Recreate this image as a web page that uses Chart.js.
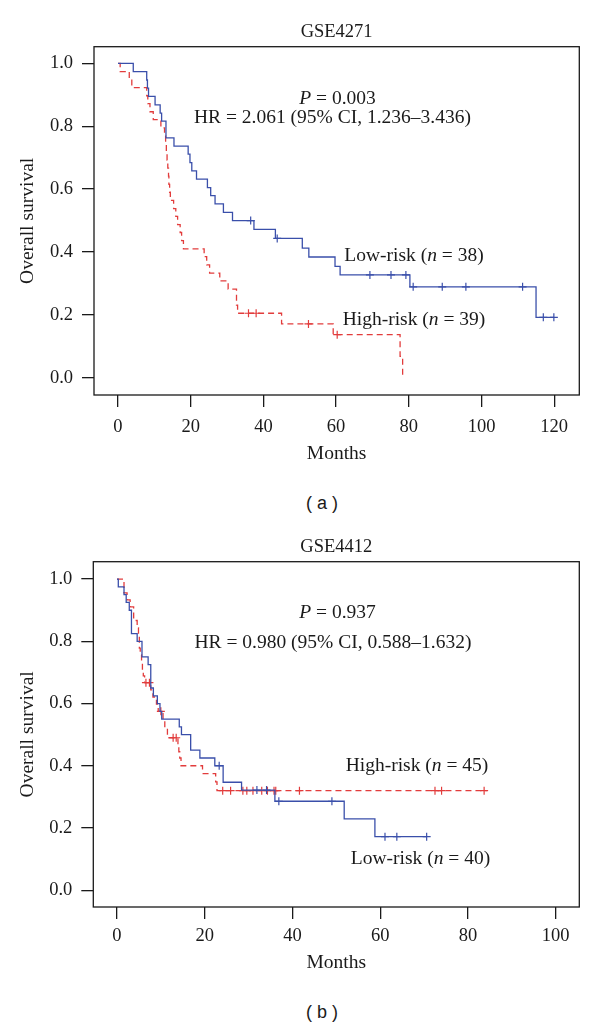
<!DOCTYPE html>
<html>
<head>
<meta charset="utf-8">
<script src="https://cdn.jsdelivr.net/npm/chart.js@4.4.1/dist/chart.umd.min.js"></script>
<style>
  body { margin: 0; background: #fff; }
  #page { position: relative; width: 600px; height: 1027px; overflow: hidden; background: #fff;
          font-family: 'Liberation Serif', 'Times New Roman', serif; color: #1a1a1a; }
  canvas { position: absolute; left: 0; }
  .note { position: absolute; transform: translate(-50%, -50%); white-space: nowrap; font-size: 19.5px; line-height: 1; }
  .cap { position: absolute; transform: translate(-50%, -50%); white-space: pre; line-height: 1;
         font-family: 'Liberation Sans', Arial, sans-serif; font-size: 18px; }
</style>
</head>
<body>
<div id="page">
  <canvas id="chartA" width="600" height="480" style="top:0px"></canvas>
  <canvas id="chartB" width="600" height="480" style="top:515px"></canvas>

  <div class="note" style="left:337.5px; top:98px"><i>P</i> = 0.003</div>
  <div class="note" style="left:332.5px; top:117px">HR = 2.061 (95% CI, 1.236–3.436)</div>
  <div class="note" style="left:414px; top:255px">Low-risk (<i>n</i> = 38)</div>
  <div class="note" style="left:414px; top:319px">High-risk (<i>n</i> = 39)</div>
  <div class="cap" style="left:322px; top:503px">( a )</div>

  <div class="note" style="left:337.5px; top:612px"><i>P</i> = 0.937</div>
  <div class="note" style="left:333px; top:642px">HR = 0.980 (95% CI, 0.588–1.632)</div>
  <div class="note" style="left:417px; top:765px">High-risk (<i>n</i> = 45)</div>
  <div class="note" style="left:420.5px; top:858px">Low-risk (<i>n</i> = 40)</div>
  <div class="cap" style="left:322px; top:1012px">( b )</div>
</div>

<script>
// (a) GSE4271 - step times (months) and survival after each step
const lowTimesA = [0, 4.2, 7.9, 8.1, 8.4, 10.2, 11.6, 12.0, 13.2, 15.4, 19.3, 19.8, 20.3, 21.6, 24.6, 25.5, 26.7, 29.0, 31.5, 37.4, 43.3, 50.7, 52.5, 59.7, 61.1, 80.3, 115.0, 119.9];
const lowSurvA  = [1, 0.974, 0.947, 0.921, 0.895, 0.868, 0.842, 0.816, 0.763, 0.737, 0.711, 0.684, 0.658, 0.632, 0.605, 0.579, 0.553, 0.526, 0.500, 0.472, 0.443, 0.412, 0.384, 0.354, 0.327, 0.289, 0.192, 0.192];
const lowCensorA = [36.5, 43.8, 69.3, 75.1, 79.2, 81.2, 89.2, 95.7, 111.3, 117.0, 119.9];

const highTimesA = [0, 0.6, 3.1, 3.8, 7.9, 8.2, 8.8, 9.7, 11.8, 12.8, 13.1, 13.3, 13.5, 13.7, 13.9, 14.0, 14.2, 14.4, 15.3, 15.9, 16.4, 17.1, 17.5, 18.0, 23.7, 24.4, 25.2, 28.0, 30.3, 32.6, 32.9, 45.0, 59.2, 77.6, 78.3];
const highSurvA  = [1, 0.974, 0.949, 0.923, 0.897, 0.872, 0.846, 0.821, 0.795, 0.769, 0.744, 0.718, 0.692, 0.667, 0.641, 0.615, 0.590, 0.564, 0.538, 0.513, 0.487, 0.462, 0.436, 0.410, 0.385, 0.359, 0.333, 0.308, 0.282, 0.231, 0.205, 0.171, 0.137, 0.068, 0];
const highCensorA = [35.9, 38.0, 52.4, 60.3];

const xTicksA = [0, 20, 40, 60, 80, 100, 120];

// (b) GSE4412
const lowTimesB = [0, 0.3, 1.6, 2.1, 2.8, 3.3, 4.6, 5.7, 7.1, 7.7, 8.3, 9.2, 9.8, 10.2, 14.2, 14.7, 16.8, 18.9, 22.3, 24.2, 28.4, 36.0, 51.8, 58.8, 70.7];
const lowSurvB  = [1, 0.975, 0.95, 0.925, 0.9, 0.825, 0.8, 0.75, 0.725, 0.65, 0.625, 0.6, 0.575, 0.55, 0.525, 0.5, 0.45, 0.425, 0.4, 0.347, 0.322, 0.286, 0.229, 0.172, 0.172];
const lowCensorB = [23.3, 31.9, 34.1, 36.9, 49.0, 61.1, 63.8, 70.6];

const highTimesB = [0, 1.6, 2.3, 3.0, 3.8, 4.6, 4.9, 5.1, 5.3, 5.6, 5.8, 6.0, 6.3, 7.7, 8.2, 9.0, 9.4, 10.5, 10.9, 11.5, 13.9, 14.1, 14.3, 14.6, 19.5, 22.5, 22.8, 84.3];
const highSurvB  = [1, 0.956, 0.933, 0.911, 0.867, 0.844, 0.822, 0.778, 0.756, 0.733, 0.711, 0.689, 0.667, 0.644, 0.621, 0.598, 0.575, 0.549, 0.523, 0.490, 0.465, 0.445, 0.425, 0.400, 0.375, 0.348, 0.320, 0.320];
const highCensorB = [6.6, 7.4, 10.0, 12.8, 13.5, 24.1, 25.9, 28.7, 29.6, 31.0, 33.0, 34.3, 35.8, 36.2, 41.6, 72.5, 74.0, 83.7];

const xTicksB = [0, 20, 40, 60, 80, 100];

const yTicks = [0, 0.2, 0.4, 0.6, 0.8, 1.0];
const yTickLabels = ['0.0', '0.2', '0.4', '0.6', '0.8', '1.0'];

const BLUE = '#3a4faa';
const RED = '#e23c3c';
const INK = '#1a1a1a';
const SERIF = "'Liberation Serif', 'Times New Roman', serif";

Chart.defaults.font.family = SERIF;

function stepPoints(times, surv) {
    return times.map((t, i) => ({ x: t, y: surv[i] }));
}

function survAt(times, surv, t) {
    let s = surv[0];
    for (let i = 0; i < times.length; i++) {
        if (times[i] <= t) s = surv[i];
    }
    return s;
}

function censorPoints(censor, times, surv) {
    return censor.map(t => ({ x: t, y: survAt(times, surv, t) }));
}

// R-style box round the plot region
const boxPlugin = {
    id: 'box',
    afterDatasetsDraw(chart) {
        const { ctx, chartArea: a } = chart;
        ctx.save();
        ctx.strokeStyle = INK;
        ctx.lineWidth = 1.3;
        ctx.strokeRect(a.left, a.top, a.right - a.left, a.bottom - a.top);
        ctx.restore();
    }
};

function makeChart(id, p) {
    const lineStyle = { pointRadius: 0, borderWidth: 1.3, stepped: true, fill: false };
    const crossStyle = { showLine: false, pointStyle: 'cross', pointRadius: 4, pointBorderWidth: 1.2 };

    return new Chart(document.getElementById(id), {
        type: 'line',
        data: {
            datasets: [
                { ...lineStyle, data: stepPoints(p.lowT, p.lowS), borderColor: BLUE },
                { ...crossStyle, data: censorPoints(p.lowC, p.lowT, p.lowS), borderColor: BLUE },
                { ...lineStyle, data: stepPoints(p.highT, p.highS), borderColor: RED, borderDash: [6, 4] },
                { ...crossStyle, data: censorPoints(p.highC, p.highT, p.highS), borderColor: RED }
            ]
        },
        options: {
            responsive: false,
            animation: false,
            devicePixelRatio: 1,
            events: [],
            layout: { padding: { left: 0, right: 20.7, top: 0, bottom: 0 } },
            plugins: {
                legend: { display: false },
                tooltip: { enabled: false },
                title: {
                    display: true,
                    text: p.title,
                    fullSize: false,
                    color: INK,
                    font: { size: 18.5, weight: 'normal' },
                    padding: { top: 20.9, bottom: 3.6 }
                }
            },
            scales: {
                x: {
                    type: 'linear',
                    min: p.xMin,
                    max: p.xMax,
                    afterBuildTicks: s => { s.ticks = p.xTicks.map(v => ({ value: v })); },
                    afterFit: s => { s.height = p.xAxisH; },
                    border: { display: false },
                    grid: { drawOnChartArea: false, drawTicks: true, tickLength: 12, color: INK, lineWidth: 1.3 },
                    ticks: { color: INK, font: { size: 18.5 }, padding: p.xTickPad, maxRotation: 0, autoSkip: false },
                    title: { display: true, text: 'Months', color: INK, font: { size: 19.5 }, padding: { top: 0, bottom: p.monthsPad } }
                },
                y: {
                    type: 'linear',
                    min: p.yMin,
                    max: p.yMax,
                    afterBuildTicks: s => { s.ticks = yTicks.map(v => ({ value: v })); },
                    afterFit: s => { s.width = p.yAxisW; },
                    border: { display: false },
                    grid: { drawOnChartArea: false, drawTicks: true, tickLength: 12, color: INK, lineWidth: 1.3 },
                    ticks: { color: INK, font: { size: 18.5 }, padding: 9, autoSkip: false,
                             callback: (v, i) => yTickLabels[i] },
                    title: { display: true, text: 'Overall survival', color: INK, font: { size: 19.5 }, padding: { top: 16.3, bottom: 0 } }
                }
            }
        },
        plugins: [boxPlugin]
    });
}

makeChart('chartA', {
    title: 'GSE4271',
    lowT: lowTimesA, lowS: lowSurvA, lowC: lowCensorA,
    highT: highTimesA, highS: highSurvA, highC: highCensorA,
    xTicks: xTicksA, xMin: -6.6, xMax: 126.9,
    yMin: -0.055, yMax: 1.053,
    xAxisH: 85, xTickPad: 8.9, monthsPad: 14.3, yAxisW: 94
});

makeChart('chartB', {
    title: 'GSE4412',
    lowT: lowTimesB, lowS: lowSurvB, lowC: lowCensorB,
    highT: highTimesB, highS: highSurvB, highC: highCensorB,
    xTicks: xTicksB, xMin: -5.4, xMax: 105.4,
    yMin: -0.054, yMax: 1.056,
    xAxisH: 88, xTickPad: 6.5, monthsPad: 20.6, yAxisW: 93.3
});
</script>
</body>
</html>
